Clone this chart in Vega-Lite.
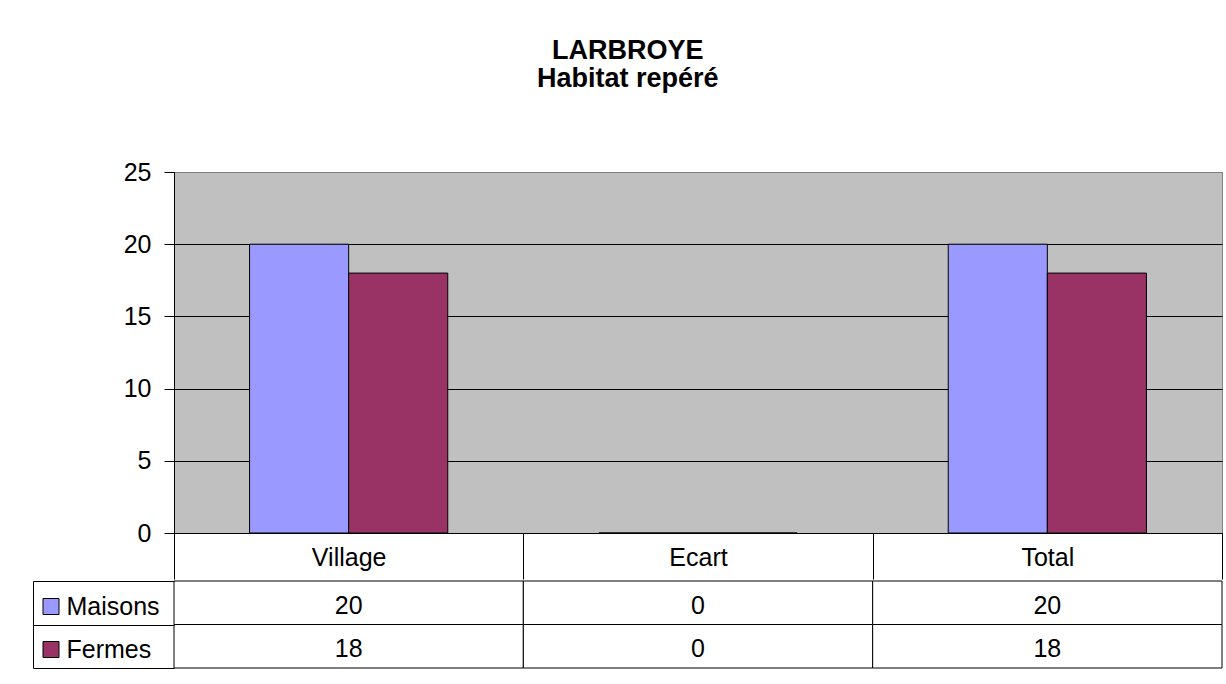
{
  "$schema": "https://vega.github.io/schema/vega-lite/v6.json",
  "padding": {"left": 32, "top": 36, "right": 0, "bottom": 0},
  "background": "white",
  "title": {"text": ["LARBROYE", "Habitat repéré"], "anchor": "middle", "frame": "bounds", "fontSize": 27, "font": "Liberation Sans", "fontWeight": "bold", "color": "black", "lineHeight": 28, "offset": 67},
  "data": {"values": [
    {"lieu": "Village", "type": "Maisons", "n": 20},
    {"lieu": "Village", "type": "Fermes", "n": 18},
    {"lieu": "Ecart", "type": "Maisons", "n": 0},
    {"lieu": "Ecart", "type": "Fermes", "n": 0},
    {"lieu": "Total", "type": "Maisons", "n": 20},
    {"lieu": "Total", "type": "Fermes", "n": 18}
  ]},
  "spacing": 0,
  "vconcat": [
    {
      "width": 1048,
      "height": 361,
      "view": {"fill": "#C0C0C0", "stroke": "#808080"},
      "mark": {"type": "bar", "stroke": "black", "strokeWidth": 1},
      "encoding": {
        "x": {"field": "lieu", "type": "nominal", "sort": ["Village", "Ecart", "Total"],
          "scale": {"paddingInner": 0, "paddingOuter": 0},
          "axis": {"title": null, "orient": "bottom", "domainColor": "black", "tickColor": "black", "tickBand": "extent", "tickSize": 46, "labelFontSize": 25, "labelFont": "Liberation Sans", "labelColor": "black", "labelBaseline": "middle", "labelPadding": -22, "labelAngle": 0, "grid": false}},
        "xOffset": {"field": "type", "type": "nominal", "sort": ["Maisons", "Fermes"], "scale": {"paddingInner": 0, "paddingOuter": 0.7626}},
        "y": {"field": "n", "type": "quantitative", "scale": {"domain": [0, 25], "nice": false},
          "axis": {"title": null, "values": [0, 5, 10, 15, 20, 25], "domainColor": "black", "tickColor": "black", "tickSize": 10, "labelPadding": 13, "labelFontSize": 25, "labelFont": "Liberation Sans", "labelColor": "black", "grid": true, "gridColor": {"condition": {"test": "datum.value === 25", "value": "#808080"}, "value": "black"}, "gridOpacity": 1}},
        "color": {"field": "type", "type": "nominal", "sort": ["Maisons", "Fermes"],
          "scale": {"domain": ["Maisons", "Fermes"], "range": ["#9999FF", "#993366"]},
          "legend": {"orient": "none", "legendX": -135.5, "legendY": 422, "title": null, "symbolType": "square", "symbolSize": 256, "symbolStrokeColor": "black", "symbolStrokeWidth": 1, "labelFontSize": 25, "labelFont": "Liberation Sans", "labelColor": "black", "labelOffset": 3, "rowPadding": 17, "padding": 0, "labelLimit": 200}}
      }
    },
    {
      "width": 1048,
      "height": 87,
      "view": {"fill": "white", "stroke": null},
      "layer": [
        {
          "mark": {"type": "rect", "fill": "white", "stroke": "black", "strokeWidth": 1},
          "encoding": {
            "x": {"field": "lieu", "type": "nominal", "sort": ["Village", "Ecart", "Total"], "scale": {"paddingInner": 0, "paddingOuter": 0}, "axis": null},
            "y": {"field": "type", "type": "nominal", "sort": ["Maisons", "Fermes"], "scale": {"paddingInner": 0, "paddingOuter": 0},
              "axis": {"title": null, "labels": false, "domain": true, "domainColor": "black", "ticks": true, "tickBand": "extent", "tickSize": -141, "offset": 141, "tickColor": "black", "grid": false}}
          }
        },
        {
          "mark": {"type": "text", "fontSize": 25, "font": "Liberation Sans", "color": "black", "dy": 3},
          "encoding": {
            "x": {"field": "lieu", "type": "nominal", "sort": ["Village", "Ecart", "Total"]},
            "y": {"field": "type", "type": "nominal", "sort": ["Maisons", "Fermes"]},
            "text": {"field": "n", "type": "quantitative"}
          }
        }
      ]
    }
  ]
}
